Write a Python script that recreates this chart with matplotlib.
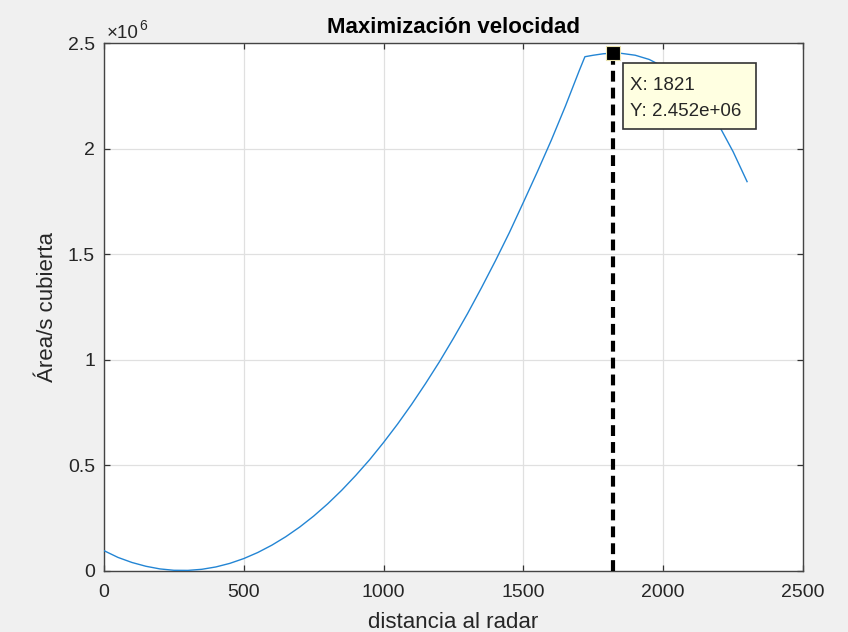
import matplotlib
matplotlib.use("Agg")
import matplotlib.pyplot as plt
from matplotlib.patches import Rectangle

plt.rcParams['font.family'] = ['Liberation Sans', 'DejaVu Sans']

# distance to radar and covered area per second (values in units of 1e6)
dist = [0, 50, 100, 150, 200, 250, 300, 350, 400, 450, 500, 550, 600, 650, 700,
        750, 800, 850, 900, 950, 1000, 1050, 1100, 1150, 1200, 1250, 1300, 1350,
        1400, 1450, 1500, 1550, 1600, 1650, 1700, 1720, 1750, 1786, 1821, 1850,
        1900, 1950, 2000, 2050, 2100, 2150, 2200, 2250, 2300]
area_m = [0.094, 0.062, 0.038, 0.020, 0.0075, 0.001, 0.0005, 0.0057, 0.0168,
          0.0338, 0.0566, 0.0853, 0.1198, 0.160, 0.206, 0.258, 0.316, 0.380,
          0.450, 0.525, 0.607, 0.694, 0.787, 0.886, 0.990, 1.101, 1.217, 1.340,
          1.468, 1.602, 1.745, 1.890, 2.040, 2.200, 2.370, 2.435, 2.442, 2.449,
          2.452, 2.451, 2.442, 2.422, 2.388, 2.340, 2.280, 2.203, 2.108, 1.985,
          1.843]
area = [v * 1e6 for v in area_m]
peak_x = 1821
peak_y = 2.452e6
tip_text = ['X: 1821', 'Y: 2.452e+06']
xticks = [0, 500, 1000, 1500, 2000, 2500]
yticks_m = [0, 0.5, 1, 1.5, 2, 2.5]
ytick_labels = ['0', '0.5', '1', '1.5', '2', '2.5']

W, H = 848, 632
txt = '#262626'
fig = plt.figure(figsize=(W / 100, H / 100), dpi=100, facecolor='#f0f0f0')
ax = fig.add_axes([104 / W, (H - 570.5) / H, 699 / W, 527.5 / H])
ax.set_facecolor('white')

ax.plot(dist, area, color='#2385d4', lw=1.0, zorder=3)
ax.plot([peak_x, peak_x], [0, peak_y], color='black', lw=3, ls=(0, (2.6, 1.45)),
        zorder=4, clip_on=False)
ax.plot([peak_x], [peak_y], marker='s', color='black', ms=10, mec='#ece5b0',
        mew=0.8, zorder=5, clip_on=False)

ax.set_xlim(0, 2500)
ax.set_ylim(0, 2.5e6)
ax.set_xticks(xticks)
ax.set_xticklabels([str(t) for t in xticks])
ax.set_yticks([v * 1e6 for v in yticks_m])
ax.set_yticklabels(ytick_labels)
ax.grid(True, color='#e0e0e0', lw=0.9, zorder=0)
ax.set_axisbelow(True)
ax.tick_params(direction='in', top=True, right=True, length=4.5, width=0.9,
               colors='#333333', labelcolor=txt, labelsize=14)
ax.tick_params(axis='x', pad=10)
ax.tick_params(axis='y', pad=6.5)
for s in ax.spines.values():
    s.set_color('#444444')
    s.set_linewidth(1.0)

ax.set_xlabel('distancia al radar', fontsize=16, color=txt, labelpad=8)
ax.set_ylabel('Área/s cubierta', fontsize=16, color=txt, labelpad=7)
ax.set_title('Maximización velocidad', fontsize=16, fontweight='bold',
             color='black', pad=7)

# exponent label
fig.text(107 / W, (H - 37.7) / H, '×10', fontsize=13.5, color=txt, ha='left', va='baseline')
fig.text(139 / W, (H - 30) / H, '6', fontsize=10, color=txt, ha='left', va='baseline')

# data tip
fig.patches.append(Rectangle((623 / W, (H - 129) / H), 133 / W, 66 / H,
                             transform=fig.transFigure, fc='#ffffe1', ec='#333333',
                             lw=1.2, zorder=10))
fig.text(630 / W, (H - 90) / H, tip_text[0], fontsize=13.5, color=txt,
         ha='left', va='baseline', zorder=11)
fig.text(630 / W, (H - 116) / H, tip_text[1], fontsize=13.5, color=txt,
         ha='left', va='baseline', zorder=11)

fig.savefig('out.png', dpi=100, facecolor=fig.get_facecolor())
